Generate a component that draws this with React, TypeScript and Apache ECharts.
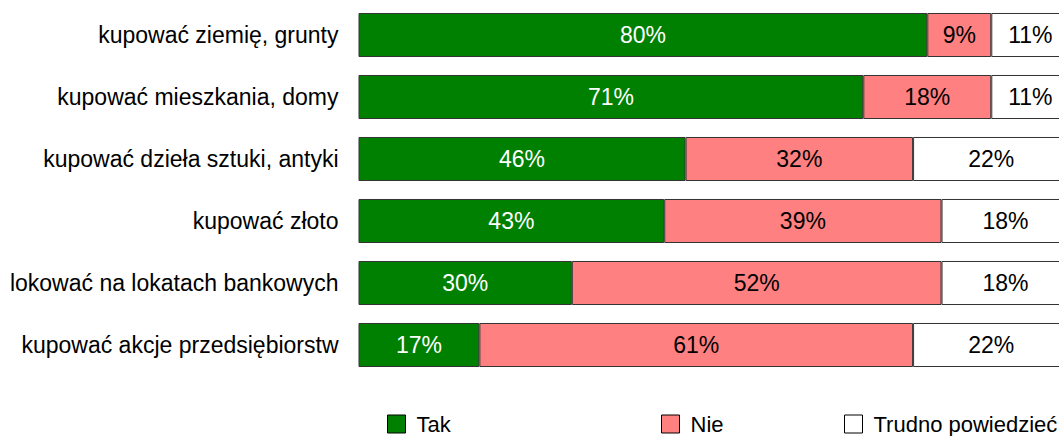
import React, { useEffect, useRef } from "react";
import * as echarts from "echarts";

const categories = [
  "kupować ziemię, grunty",
  "kupować mieszkania, domy",
  "kupować dzieła sztuki, antyki",
  "kupować złoto",
  "lokować na lokatach bankowych",
  "kupować akcje przedsiębiorstw",
];
const tak = [80, 71, 46, 43, 30, 17];
const nie = [9, 18, 32, 39, 52, 61];
const trudno = [11, 11, 22, 18, 18, 22];
const seriesNames = ["Tak", "Nie", "Trudno powiedzieć"];

const FONT = "'Liberation Sans', Arial, sans-serif";

export default function App() {
  const ref = useRef<HTMLDivElement>(null);
  useEffect(() => {
    const chart = echarts.init(ref.current!, null, { renderer: "svg" });
    const mk = (name: string, data: number[], color: string, labelColor: string) => ({
      name,
      type: "bar",
      stack: "all",
      data,
      barCategoryGap: "29%",
      itemStyle: { color, borderColor: "#333", borderWidth: 1 },
      label: {
        show: true,
        position: "inside",
        formatter: "{c}%",
        color: labelColor,
        fontSize: 23,
        fontFamily: FONT,
      },
    });
    const legendBase = (name: string, left: number) => ({
      data: [{ name, itemStyle: { borderColor: "#000", borderWidth: 1 } }],
      left,
      top: 413,
      padding: 0,
      icon: "rect",
      itemWidth: 18,
      itemHeight: 18,
      itemGap: 11,
      textStyle: { fontSize: 22, lineHeight: 20, fontFamily: FONT, color: "#000", padding: [0, 0, 0, 6] },
      selectedMode: false,
    });
    chart.setOption({
      animation: false,
      backgroundColor: "#fff",
      grid: { left: 358.5, top: 4, width: 711, height: 372, containLabel: false },
      xAxis: {
        type: "value",
        min: 0,
        max: 100,
        show: false,
      },
      yAxis: {
        type: "category",
        data: categories,
        inverse: true,
        axisLine: { show: false },
        axisTick: { show: false },
        axisLabel: { margin: 20, fontSize: 23, fontFamily: FONT, color: "#000" },
      },
      legend: [
        legendBase(seriesNames[0], 387),
        legendBase(seriesNames[1], 661),
        legendBase(seriesNames[2], 844),
      ],
      series: [
        mk(seriesNames[0], tak, "#008000", "#fff"),
        mk(seriesNames[1], nie, "#FF8080", "#000"),
        mk(seriesNames[2], trudno, "#FFFFFF", "#000"),
      ],
    });
    return () => chart.dispose();
  }, []);
  return (
    <div
      ref={ref}
      style={{ position: "fixed", left: 0, top: 0, width: 1080, height: 436 }}
    />
  );
}
